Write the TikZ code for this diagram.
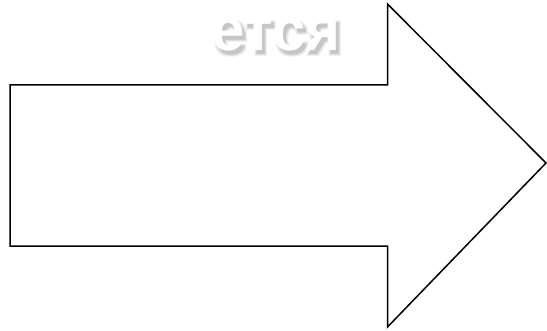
\documentclass[tikz,border=0pt]{standalone}
\usepackage{fontspec}
\setmainfont{Liberation Sans}
\newcommand{\shadowlayer}[4]{\makebox[0pt][l]{\hspace{#1pt}\raisebox{#2pt}{\textcolor{#3}{#4}}}}
\newcommand{\shadowedword}[1]{%
  \shadowlayer{5}{-6}{gray!12}{#1}%
  \shadowlayer{1}{-6}{gray!12}{#1}%
  \shadowlayer{5}{-2}{gray!12}{#1}%
  \shadowlayer{4}{-5}{gray!25}{#1}%
  \shadowlayer{2}{-5}{gray!25}{#1}%
  \shadowlayer{4}{-3}{gray!25}{#1}%
  \shadowlayer{3}{-4}{gray!45}{#1}%
  \textcolor{white}{#1}}
\tikzset{
  arrowshape/.style={draw=black, line width=1.5pt, line join=miter, fill=white},
  labeltext/.style={font=\fontsize{60}{64}\selectfont\bfseries, inner sep=0pt, anchor=base}
}
\begin{document}
\begin{tikzpicture}[x=1pt,y=1pt]
\useasboundingbox (0,0) rectangle (547,330);
\fill[white] (0,0) rectangle (547,330);
% arrow
\draw[arrowshape] (10,245) -- (387.5,245) -- (387.5,326) -- (546,167) -- (387.5,3) -- (387.5,84) -- (10,84) -- cycle;
% label
\node[labeltext] (lbl) at (276,279) {\shadowedword{ется}};
\end{tikzpicture}
\end{document}
